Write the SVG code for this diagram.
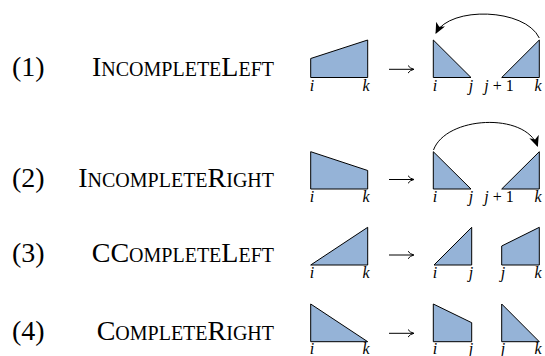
<svg xmlns="http://www.w3.org/2000/svg" width="545" height="356" viewBox="0 0 545 356">
<defs>
<style>
.shape{fill:#95b3d7;stroke:#000;stroke-width:1;stroke-linejoin:miter}
.num{font-family:"Liberation Serif","Times New Roman",serif;font-size:28px;fill:#000}
.name{font-family:"Liberation Serif","Times New Roman",serif;font-size:28px;font-variant:small-caps;fill:#000;text-anchor:end}
.lbl{font-family:"Liberation Serif","Times New Roman",serif;font-size:16px;font-style:italic;fill:#000;text-anchor:middle}
.up{font-style:normal}
.arr{fill:none;stroke:#000;stroke-width:1}
.arc{fill:none;stroke:#000;stroke-width:1}
</style>
<marker id="ah" markerWidth="12" markerHeight="10" refX="10" refY="5" orient="auto" markerUnits="userSpaceOnUse">
<path d="M0,0 L11,5 L0,10 L3,5 Z" fill="#000"/>
</marker>
</defs>

<g id="row1">
<text class="num" x="12" y="76">(1)</text>
<text class="name" x="274" y="76">IncompleteLeft</text>
<g id="r1-src"><polygon class="shape" points="310.7,77.5 310.7,58.5 367.7,40 367.7,77.5"/>
<text class="lbl" x="312" y="91">i</text><text class="lbl" x="366" y="91">k</text></g>
<g id="r1-left"><polygon class="shape" points="433.3,40 433.3,77.5 471,77.5"/>
<text class="lbl" x="435" y="91">i</text><text class="lbl" x="471" y="91">j</text></g>
<g id="r1-right"><polygon class="shape" points="501.7,77.5 539.3,40 539.3,77.5"/>
<text class="lbl" x="499" y="91">j<tspan class="up"> + 1</tspan></text><text class="lbl" x="538" y="91">k</text></g>
</g>

<g id="row2">
<text class="num" x="12" y="187">(2)</text>
<text class="name" x="274" y="187">IncompleteRight</text>
<g id="r2-src"><polygon class="shape" points="310.7,151.7 310.7,189 367.7,189 367.7,170.5"/>
<text class="lbl" x="312" y="202">i</text><text class="lbl" x="366" y="202">k</text></g>
<g id="r2-left"><polygon class="shape" points="433.3,151.7 433.3,189 471,189"/>
<text class="lbl" x="435" y="202">i</text><text class="lbl" x="471" y="202">j</text></g>
<g id="r2-right"><polygon class="shape" points="501.7,189 539.3,151.7 539.3,189"/>
<text class="lbl" x="499" y="202">j<tspan class="up"> + 1</tspan></text><text class="lbl" x="538" y="202">k</text></g>
</g>

<g id="row3">
<text class="num" x="12" y="262">(3)</text>
<text class="name" x="274" y="262">CCompleteLeft</text>
<g id="r3-src"><polygon class="shape" points="310.7,265 367.7,227.3 367.7,265"/>
<text class="lbl" x="312" y="278">i</text><text class="lbl" x="366" y="278">k</text></g>
<g id="r3-left"><polygon class="shape" points="434,265 471.7,227.3 471.7,265"/>
<text class="lbl" x="435" y="278">i</text><text class="lbl" x="471" y="278">j</text></g>
<g id="r3-right"><polygon class="shape" points="501.7,265 501.7,246 539.3,227.3 539.3,265"/>
<text class="lbl" x="503" y="278">j</text><text class="lbl" x="538" y="278">k</text></g>
</g>

<g id="row4">
<text class="num" x="12" y="340">(4)</text>
<text class="name" x="274" y="340">CompleteRight</text>
<g id="r4-src"><polygon class="shape" points="310.7,304 310.7,341.7 367.7,341.7"/>
<text class="lbl" x="312" y="353.5">i</text><text class="lbl" x="366" y="353.5">k</text></g>
<g id="r4-left"><polygon class="shape" points="433.3,304 433.3,341.7 471.7,341.7 471.7,322.7"/>
<text class="lbl" x="435" y="353.5">i</text><text class="lbl" x="471" y="353.5">j</text></g>
<g id="r4-right"><polygon class="shape" points="501.7,304 501.7,341.7 539.3,341.7"/>
<text class="lbl" x="503" y="353.5">j</text><text class="lbl" x="538" y="353.5">k</text></g>
</g>

<g id="connectors">
<path class="arr" d="M389,69.3 H413 M408,65.5 Q410,68.5 414,69.3 Q410,70.1 408,73.1"/>
<path class="arr" d="M389,179.5 H413 M408,175.7 Q410,178.7 414,179.5 Q410,180.3 408,183.3"/>
<path class="arr" d="M389,255 H413 M408,251.2 Q410,254.2 414,255 Q410,255.8 408,258.8"/>
<path class="arr" d="M389,333.3 H413 M408,329.5 Q410,332.5 414,333.3 Q410,334.1 408,337.1"/>
<path class="arc" d="M539.3,38 C525,8 450,6 436,33" marker-end="url(#ah)"/>
<path class="arc" d="M433.5,150 C446,116 525,112 537.5,146" marker-end="url(#ah)"/>
</g>
</svg>
